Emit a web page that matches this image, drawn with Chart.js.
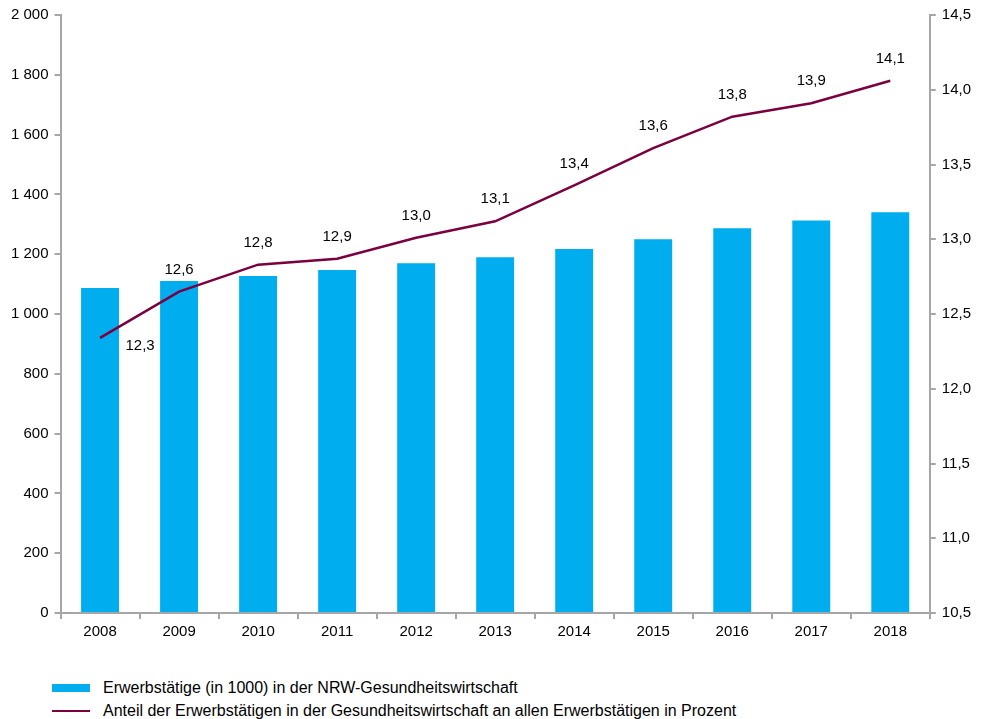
<!DOCTYPE html>
<html>
<head>
<meta charset="utf-8">
<script src="https://cdn.jsdelivr.net/npm/chart.js@4"></script>
<style>
  body { margin: 0; background: #fff; font-family: "Liberation Sans", Arial, sans-serif; }
  #wrap { position: relative; width: 987px; height: 645px; }
  .legend { position: absolute; left: 52px; font-size: 16px; color: #000; }
  .legend div { height: 23px; display: flex; align-items: center; }
  .sw { display: inline-block; width: 38px; margin-right: 13px; }
</style>
</head>
<body>
<div id="wrap"><canvas id="myChart" width="987" height="645"></canvas></div>
<div class="legend" style="top:676px">
  <div><span class="sw" style="height:8px;background:#00adef"></span>Erwerbstätige (in 1000) in der NRW-Gesundheitswirtschaft</div>
  <div><span class="sw" style="height:2px;background:#7a0040"></span>Anteil der Erwerbstätigen in der Gesundheitswirtschaft an allen Erwerbstätigen in Prozent</div>
</div>
<script>
// daten
const jahre = ['2008','2009','2010','2011','2012','2013','2014','2015','2016','2017','2018'];
const erwerbstaetige = [1087, 1110, 1127, 1147, 1170, 1190, 1217, 1250, 1287, 1313, 1340];
const anteil = [12.34, 12.65, 12.83, 12.87, 13.01, 13.12, 13.36, 13.61, 13.82, 13.91, 14.06];
const anteilText = ['12,3','12,6','12,8','12,9','13,0','13,1','13,4','13,6','13,8','13,9','14,1'];

const grau = '#a6a6a6';
const schrift = { size: 15, family: '"Liberation Sans", Arial' };

// beschriftung der linie
const labelPlugin = {
  id: 'werte',
  afterDatasetsDraw(chart) {
    const c = chart.ctx;
    const pts = chart.getDatasetMeta(1).data;
    c.save();
    c.font = '15px "Liberation Sans", Arial, sans-serif';
    c.fillStyle = '#000';
    c.textAlign = 'center';
    c.textBaseline = 'middle';
    pts.forEach((p, i) => {
      if (i === 0) c.fillText(anteilText[i], p.x + 40, p.y + 8);
      else c.fillText(anteilText[i], p.x, p.y - 22);
    });
    c.restore();
  }
};

const ctx = document.getElementById('myChart');
new Chart(ctx, {
  type: 'bar',
  data: {
    labels: jahre,
    datasets: [{
      label: 'Erwerbstätige (in 1000) in der NRW-Gesundheitswirtschaft',
      data: erwerbstaetige,
      backgroundColor: '#00adef',
      barPercentage: 0.48,
      categoryPercentage: 1,
      yAxisID: 'y',
      order: 2
    }, {
      type: 'line',
      label: 'Anteil der Erwerbstätigen in der Gesundheitswirtschaft an allen Erwerbstätigen in Prozent',
      data: anteil,
      borderColor: '#7a0040',
      borderWidth: 2.5,
      pointRadius: 0,
      tension: 0,
      yAxisID: 'y2',
      order: 1
    }]
  },
  options: {
    responsive: false,
    animation: false,
    layout: { padding: { top: 13, left: 5, right: 10, bottom: 0 } },
    plugins: { legend: { display: false }, tooltip: { enabled: false } },
    scales: {
      x: {
        offset: true,
        grid: { offset: true, drawOnChartArea: false, color: grau, lineWidth: 2, tickLength: 6 },
        border: { color: grau, width: 2 },
        ticks: { color: '#000', font: schrift, padding: 4 }
      },
      y: {
        position: 'left',
        min: 0, max: 2000,
        grid: { drawOnChartArea: false, color: grau, lineWidth: 2, tickLength: 6 },
        border: { color: grau, width: 2 },
        ticks: {
          stepSize: 200, color: '#000', padding: 6, font: schrift,
          callback: v => String(v).replace(/\B(?=(\d{3})+(?!\d))/g, ' ')
        }
      },
      y2: {
        position: 'right',
        min: 10.5, max: 14.5,
        grid: { drawOnChartArea: false, color: grau, lineWidth: 2, tickLength: 6 },
        border: { color: grau, width: 2 },
        ticks: {
          stepSize: 0.5, color: '#000', padding: 6, font: schrift,
          callback: v => v.toFixed(1).replace('.', ',')
        }
      }
    }
  },
  plugins: [labelPlugin]
});
</script>
</body>
</html>
